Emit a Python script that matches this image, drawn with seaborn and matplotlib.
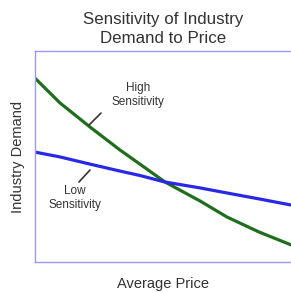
import matplotlib
matplotlib.use("Agg")
import matplotlib.pyplot as plt
import seaborn as sns
import pandas as pd

# Data (price 0-10, demand 0-10)
price = [0.0, 0.98, 2.15, 3.32, 4.10, 5.08, 6.45, 7.50, 8.75, 10.0]
demand_high = [8.72, 7.54, 6.40, 5.31, 4.64, 3.79, 2.89, 2.13, 1.42, 0.81]
demand_low = [5.21, 4.98, 4.64, 4.31, 4.10, 3.79, 3.51, 3.27, 2.99, 2.70]

series_names = ["High Sensitivity", "Low Sensitivity"]
colors = ["#1e6e1e", "#2828e6"]

df = pd.DataFrame({
    "price": price + price,
    "demand": demand_high + demand_low,
    "series": [series_names[0]] * len(price) + [series_names[1]] * len(price),
})

sns.set_theme(style="white")
plt.rcParams['font.family'] = ['Liberation Sans', 'DejaVu Sans']

fig = plt.figure(figsize=(2.91, 2.92), dpi=100)
ax = fig.add_axes([0.12, 0.103, 0.88, 0.722])

sns.lineplot(data=df, x="price", y="demand", hue="series", palette=colors,
             linewidth=2.3, legend=False, ax=ax, sort=False)

ax.set_xlim(0, 10)
ax.set_ylim(0, 10)
ax.set_xticks([])
ax.set_yticks([])
for side in ["left", "top", "bottom"]:
    ax.spines[side].set_color("#9a9af5")
    ax.spines[side].set_linewidth(1.0)
ax.spines["right"].set_visible(False)

ax.set_xlabel("Average Price", fontsize=10.5, color="#333333", labelpad=11)
ax.set_ylabel("Industry Demand", fontsize=10.5, color="#333333", labelpad=7)
ax.set_title("Sensitivity of Industry\nDemand to Price", fontsize=12.2,
             color="#333333", pad=6, linespacing=1.3)

ax.text(4.02, 7.91, "High\nSensitivity", ha="center", va="center",
        fontsize=8.5, color="#333333", linespacing=1.2)
ax.plot([2.58, 2.11], [7.06, 6.49], color="#333333", lw=1.2)
ax.text(1.56, 3.03, "Low\nSensitivity", ha="center", va="center",
        fontsize=8.5, color="#333333", linespacing=1.2)
ax.plot([2.15, 1.72], [4.36, 3.79], color="#333333", lw=1.2)

fig.savefig("out.png", dpi=100)
